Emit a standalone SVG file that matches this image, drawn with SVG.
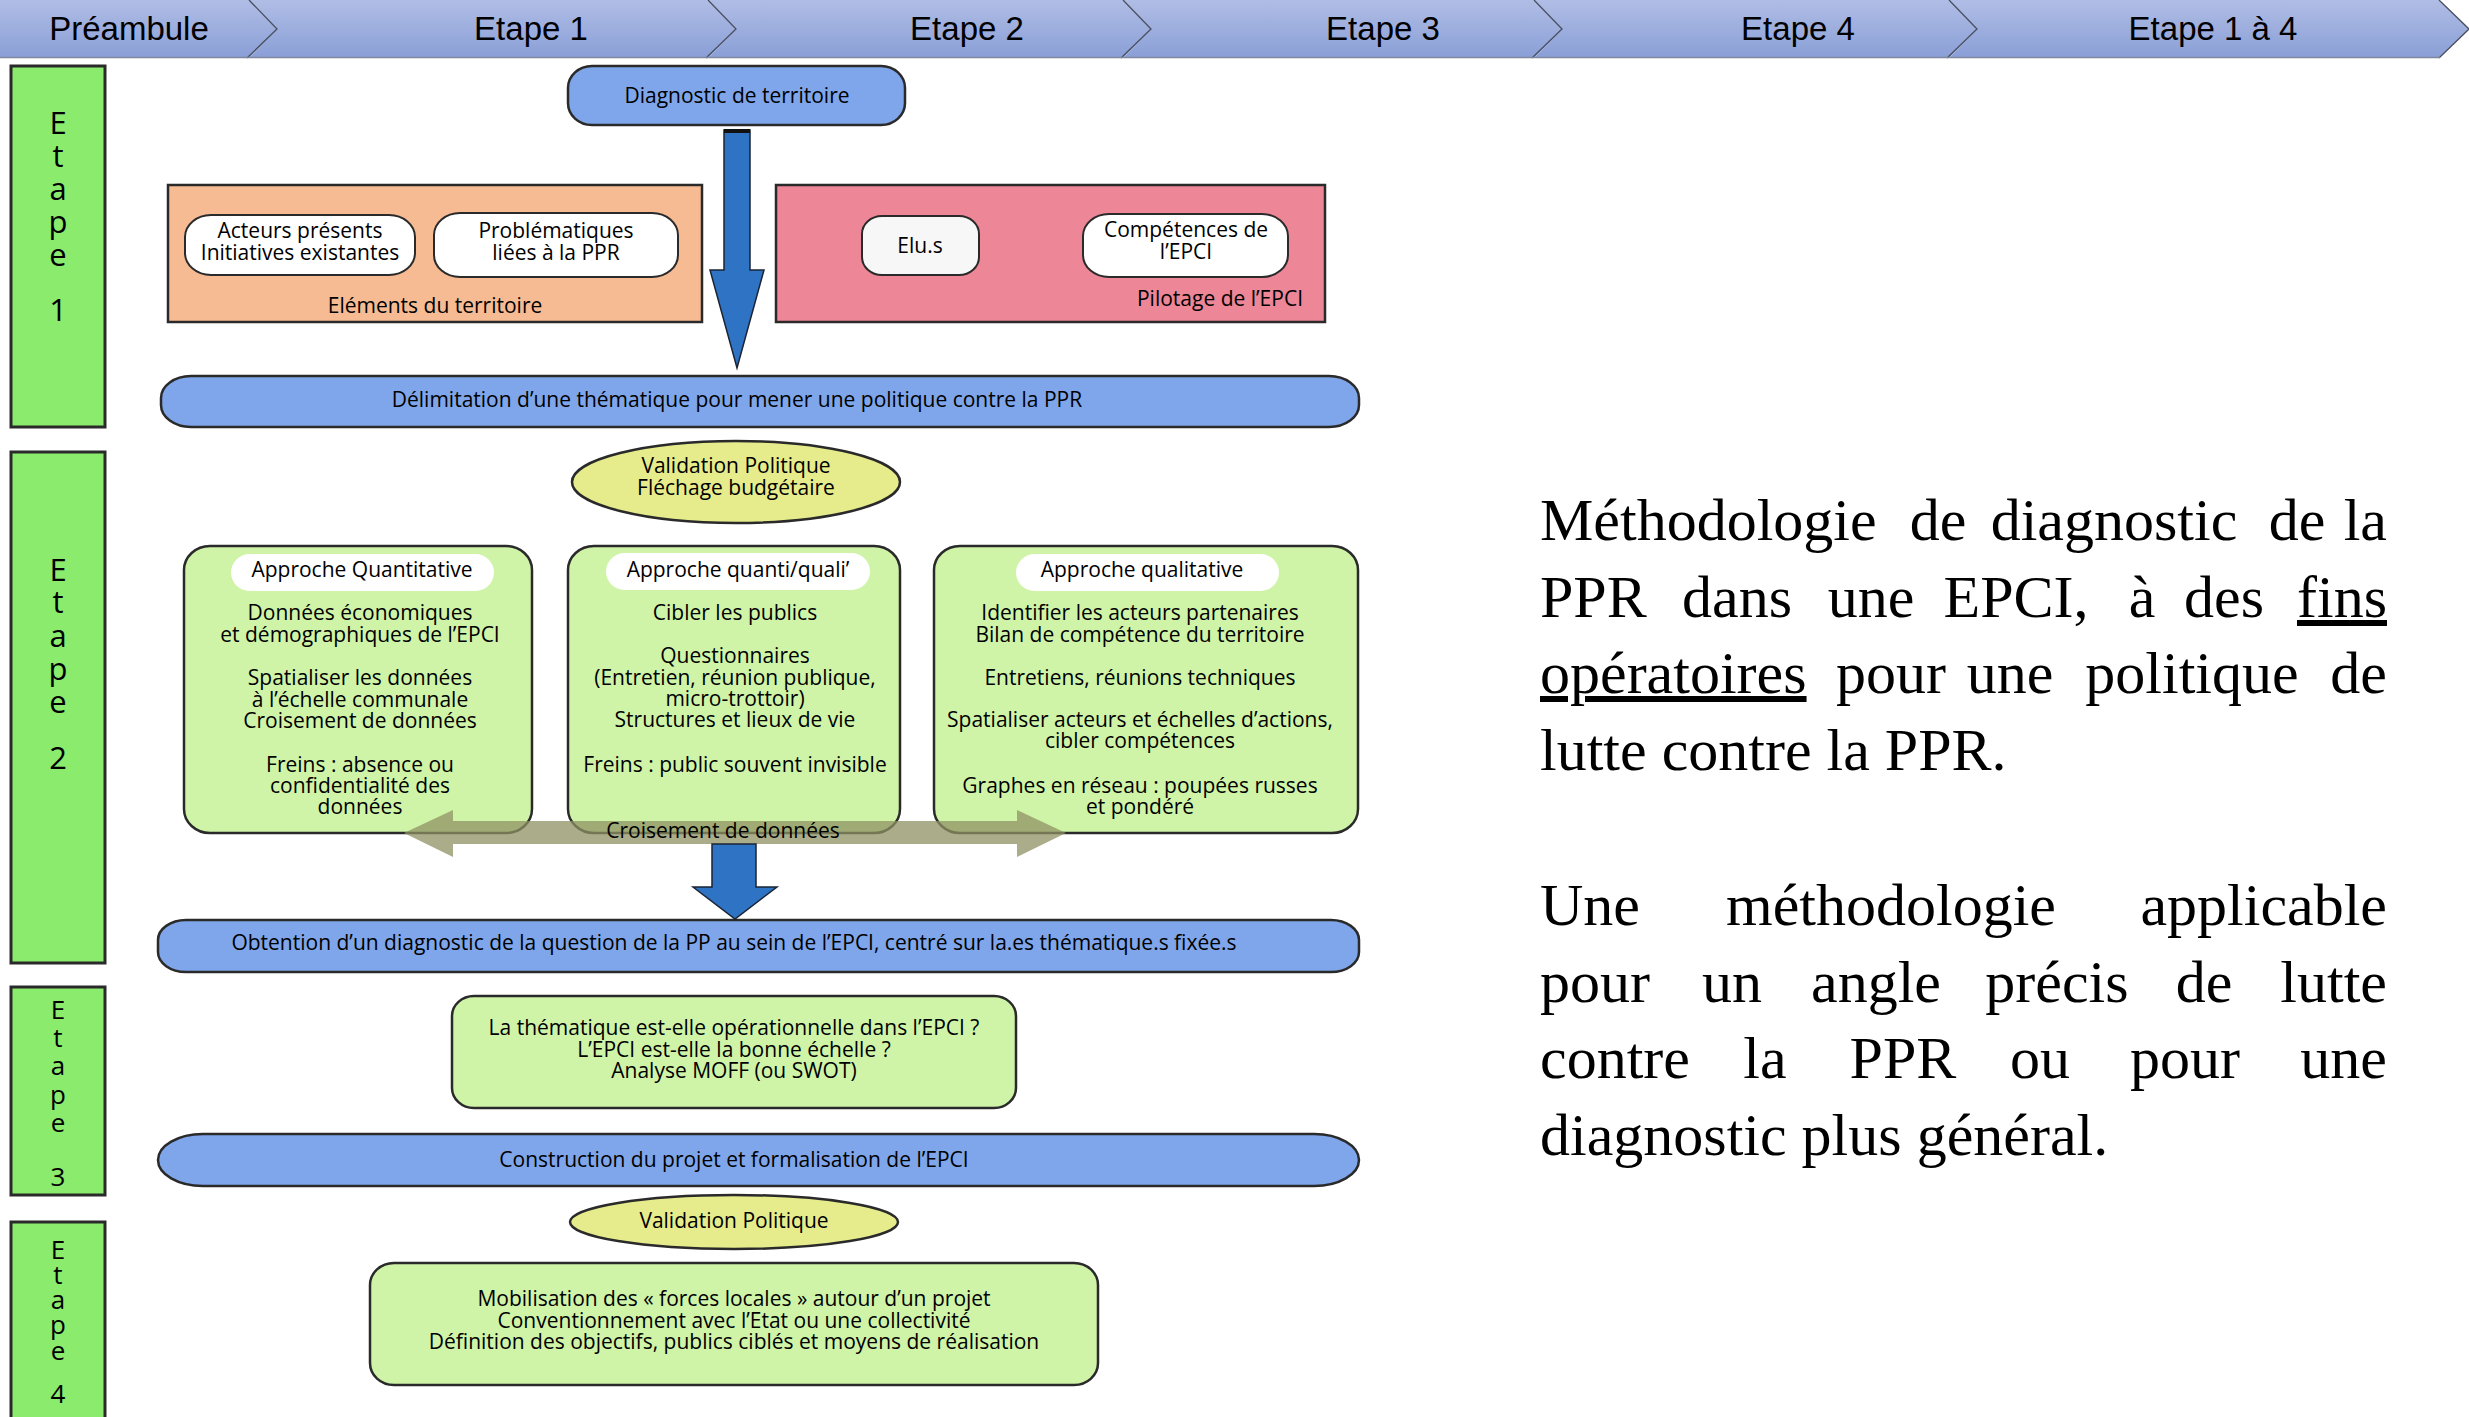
<svg xmlns="http://www.w3.org/2000/svg" width="2469" height="1417" viewBox="0 0 2469 1417">
<defs>
<linearGradient id="hg" x1="0" y1="0" x2="0" y2="1">
<stop offset="0" stop-color="#b0bde5"/>
<stop offset="1" stop-color="#8a9fd7"/>
</linearGradient>
<style>
.hdr{font-family:"Liberation Sans",Arial,sans-serif;font-size:33px;fill:#000;text-anchor:middle}
.chev{fill:url(#hg);stroke:none}
.chevl{fill:none;stroke:#4a4f60;stroke-width:1.3}
.stage{fill:#8aeb6c;stroke:#2a2a2a;stroke-width:3}
.vl{font-family:"Open Sans",sans-serif;font-size:31px;fill:#000;text-anchor:middle}
.vl3{font-family:"Open Sans",sans-serif;font-size:26px;fill:#000;text-anchor:middle}
.t{font-family:"Open Sans",sans-serif;font-size:21px;fill:#000;text-anchor:middle}
.blue{fill:#7fa6ea;stroke:#2a2a2a;stroke-width:2.5}
.lg{fill:#cff4a8;stroke:#2a2a2a;stroke-width:2.5}
.wb{fill:#fff;stroke:#2a2a2a;stroke-width:2}
.pill{fill:#fff;stroke:none}
.ell{fill:#e6ec8b;stroke:#2a2a2a;stroke-width:2.5}
.arr{fill:#2f73c5;stroke:#1a2433;stroke-width:1.5}
.sf{font-family:"Liberation Serif","Times New Roman",serif;font-size:60px;fill:#000}
.s{text-anchor:start}.m{text-anchor:middle}.e{text-anchor:end}
.u{text-decoration:underline}
</style>
</defs>
<rect width="2469" height="1417" fill="#fff"/>

<!-- Header -->
<g id="header">
<polygon class="chev" points="0,0 249,0 277,29 249,58 0,58"/>
<polygon class="chev" points="249,0 708,0 736,29 708,58 249,58 277,29"/>
<polygon class="chev" points="708,0 1123,0 1151,29 1123,58 708,58 736,29"/>
<polygon class="chev" points="1123,0 1534,0 1562,29 1534,58 1123,58 1151,29"/>
<polygon class="chev" points="1534,0 1949,0 1977,29 1949,58 1534,58 1562,29"/>
<polygon class="chev" points="1949,0 2439,0 2469,29 2439,58 1949,58 1977,29"/>
<polyline class="chevl" points="249,0 277,29 247,58"/>
<polyline class="chevl" points="708,0 736,29 706,58"/>
<polyline class="chevl" points="1123,0 1151,29 1121,58"/>
<polyline class="chevl" points="1534,0 1562,29 1532,58"/>
<polyline class="chevl" points="1949,0 1977,29 1947,58"/>
<polyline class="chevl" points="2439,0 2469,29 2439,58"/>
<line x1="0" y1="57.5" x2="2440" y2="57.5" stroke="#7f87a0" stroke-width="1.5"/>
<text class="hdr" x="129" y="40">Préambule</text>
<text class="hdr" x="531" y="40">Etape 1</text>
<text class="hdr" x="967" y="40">Etape 2</text>
<text class="hdr" x="1383" y="40">Etape 3</text>
<text class="hdr" x="1798" y="40">Etape 4</text>
<text class="hdr" x="2213" y="40">Etape 1 à 4</text>
</g>

<!-- Stage bars -->
<g id="etape1-bar">
<rect class="stage" x="11" y="66" width="94" height="361"/>
<text class="vl" x="58" y="134">E</text><text class="vl" x="58" y="167">t</text><text class="vl" x="58" y="200">a</text><text class="vl" x="58" y="233">p</text><text class="vl" x="58" y="266">e</text><text class="vl" x="58" y="321">1</text>
</g>
<g id="etape2-bar">
<rect class="stage" x="11" y="452" width="94" height="511"/>
<text class="vl" x="58" y="581">E</text><text class="vl" x="58" y="613">t</text><text class="vl" x="58" y="647">a</text><text class="vl" x="58" y="680">p</text><text class="vl" x="58" y="713">e</text><text class="vl" x="58" y="769">2</text>
</g>
<g id="etape3-bar">
<rect class="stage" x="11" y="987" width="94" height="208"/>
<text class="vl3" x="58" y="1019">E</text><text class="vl3" x="58" y="1047">t</text><text class="vl3" x="58" y="1075">a</text><text class="vl3" x="58" y="1104">p</text><text class="vl3" x="58" y="1132">e</text><text class="vl3" x="58" y="1186">3</text>
</g>
<g id="etape4-bar">
<rect class="stage" x="11" y="1222" width="94" height="210"/>
<text class="vl3" x="58" y="1259">E</text><text class="vl3" x="58" y="1284">t</text><text class="vl3" x="58" y="1309">a</text><text class="vl3" x="58" y="1334">p</text><text class="vl3" x="58" y="1360">e</text><text class="vl3" x="58" y="1403">4</text>
</g>

<!-- Etape 1 nodes -->
<g id="diagnostic">
<rect class="blue" x="568" y="66" width="337" height="59" rx="24" ry="22"/>
<text class="t" x="737" y="103">Diagnostic de territoire</text>
</g>
<g id="elements-territoire">
<rect x="168" y="185" width="534" height="137" fill="#f7bb93" stroke="#2a2a2a" stroke-width="2.5"/>
<text class="t" x="435" y="313">Eléments du territoire</text>
</g>
<g id="acteurs">
<rect class="wb" x="185" y="215" width="230" height="60" rx="26" ry="22"/>
<text class="t" x="300" y="238">Acteurs présents</text>
<text class="t" x="300" y="260">Initiatives existantes</text>
</g>
<g id="problematiques">
<rect class="wb" x="434" y="213" width="244" height="64" rx="26" ry="22"/>
<text class="t" x="556" y="238">Problématiques</text>
<text class="t" x="556" y="260">liées à la PPR</text>
</g>
<g id="pilotage">
<rect x="776" y="185" width="549" height="137" fill="#ed8696" stroke="#2a2a2a" stroke-width="2.5"/>
<text class="t" x="1220" y="306">Pilotage de l’EPCI</text>
</g>
<g id="elus">
<rect x="862" y="216" width="117" height="59" rx="20" ry="18" fill="#f7f7f7" stroke="#2a2a2a" stroke-width="2"/>
<text class="t" x="920" y="253">Elu.s</text>
</g>
<g id="competences">
<rect class="wb" x="1083" y="214" width="205" height="63" rx="26" ry="22"/>
<text class="t" x="1186" y="237">Compétences de</text>
<text class="t" x="1186" y="259">l’EPCI</text>
</g>
<g id="delimitation">
<rect class="blue" x="161" y="376" width="1198" height="51" rx="30" ry="22"/>
<text class="t" x="737" y="407">Délimitation d’une thématique pour mener une politique contre la PPR</text>
</g>

<!-- Etape 2 nodes -->
<g id="validation1">
<ellipse class="ell" cx="736" cy="482" rx="164" ry="41"/>
<text class="t" x="736" y="473">Validation Politique</text>
<text class="t" x="736" y="495">Fléchage budgétaire</text>
</g>
<g id="quantitative">
<rect class="lg" x="184" y="546" width="348" height="287" rx="26" ry="24"/>
<rect class="pill" x="231" y="554" width="263" height="37" rx="18.5"/>
<text class="t" x="362" y="577">Approche Quantitative</text>
<text class="t" x="360" y="620">Données économiques</text>
<text class="t" x="360" y="642">et démographiques de l’EPCI</text>
<text class="t" x="360" y="685">Spatialiser les données</text>
<text class="t" x="360" y="707">à l’échelle communale</text>
<text class="t" x="360" y="728">Croisement de données</text>
<text class="t" x="360" y="772">Freins : absence ou</text>
<text class="t" x="360" y="793">confidentialité des</text>
<text class="t" x="360" y="814">données</text>
</g>
<g id="quanti-quali">
<rect class="lg" x="568" y="546" width="332" height="287" rx="26" ry="24"/>
<rect class="pill" x="606" y="553" width="264" height="37" rx="18.5"/>
<text class="t" x="738" y="577">Approche quanti/quali’</text>
<text class="t" x="735" y="620">Cibler les publics</text>
<text class="t" x="735" y="663">Questionnaires</text>
<text class="t" x="735" y="685">(Entretien, réunion publique,</text>
<text class="t" x="735" y="706">micro-trottoir)</text>
<text class="t" x="735" y="727">Structures et lieux de vie</text>
<text class="t" x="735" y="772">Freins : public souvent invisible</text>
</g>
<g id="qualitative">
<rect class="lg" x="934" y="546" width="424" height="287" rx="26" ry="24"/>
<rect class="pill" x="1016" y="554" width="263" height="37" rx="18.5"/>
<text class="t" x="1142" y="577">Approche qualitative</text>
<text class="t" x="1140" y="620">Identifier les acteurs partenaires</text>
<text class="t" x="1140" y="642">Bilan de compétence du territoire</text>
<text class="t" x="1140" y="685">Entretiens, réunions techniques</text>
<text class="t" x="1140" y="727">Spatialiser acteurs et échelles d’actions,</text>
<text class="t" x="1140" y="748">cibler compétences</text>
<text class="t" x="1140" y="793">Graphes en réseau : poupées russes</text>
<text class="t" x="1140" y="814">et pondéré</text>
</g>
<g id="obtention">
<rect class="blue" x="158" y="920" width="1201" height="52" rx="28" ry="20"/>
<text class="t" x="734" y="950">Obtention d’un diagnostic de la question de la PP au sein de l’EPCI, centré sur la.es thématique.s fixée.s</text>
</g>

<!-- Etape 3 nodes -->
<g id="thematique">
<rect class="lg" x="452" y="996" width="564" height="112" rx="22" ry="20"/>
<text class="t" x="734" y="1035">La thématique est-elle opérationnelle dans l’EPCI ?</text>
<text class="t" x="734" y="1057">L’EPCI est-elle la bonne échelle ?</text>
<text class="t" x="734" y="1078">Analyse MOFF (ou SWOT)</text>
</g>
<g id="construction">
<rect class="blue" x="158" y="1134" width="1201" height="52" rx="45" ry="26"/>
<text class="t" x="734" y="1167">Construction du projet et formalisation de l’EPCI</text>
</g>

<!-- Etape 4 nodes -->
<g id="validation2">
<ellipse class="ell" cx="734" cy="1222" rx="164" ry="27"/>
<text class="t" x="734" y="1228">Validation Politique</text>
</g>
<g id="mobilisation">
<rect class="lg" x="370" y="1263" width="728" height="122" rx="24" ry="22"/>
<text class="t" x="734" y="1306">Mobilisation des « forces locales » autour d’un projet</text>
<text class="t" x="734" y="1328">Conventionnement avec l’Etat ou une collectivité</text>
<text class="t" x="734" y="1349">Définition des objectifs, publics ciblés et moyens de réalisation</text>
</g>

<!-- Connectors -->
<g id="connectors">
<polygon class="arr" points="724,130 750,130 750,270 764,270 737,368 710,270 724,270"/>
<line x1="724" y1="131" x2="750" y2="131" stroke="#111" stroke-width="4"/>
<polygon points="404,833 453,810 453,821 1017,821 1017,810 1066,833 1017,857 1017,844 453,844 453,857" fill="#8f9163" fill-opacity="0.75"/>
<text class="t" x="723" y="838">Croisement de données</text>
<polygon class="arr" points="712,844 756,844 756,887 777,887 735,919 693,887 712,887"/>
</g>

<!-- Right text -->
<g id="description">
<text class="sf s" x="1540" y="540">Méthodologie</text>
<text class="sf m" x="1938" y="540">de</text>
<text class="sf m" x="2114" y="540">diagnostic</text>
<text class="sf m" x="2297" y="540">de</text>
<text class="sf e" x="2387" y="540">la</text>

<text class="sf s" x="1540" y="617">PPR</text>
<text class="sf m" x="1737" y="617">dans</text>
<text class="sf m" x="1871" y="617">une</text>
<text class="sf m" x="2016" y="617">EPCI,</text>
<text class="sf m" x="2142" y="617">à</text>
<text class="sf m" x="2224" y="617">des</text>
<text class="sf e u" x="2387" y="617">fins</text>

<text class="sf s u" x="1540" y="693">opératoires</text>
<text class="sf m" x="1891" y="693">pour</text>
<text class="sf m" x="2010" y="693">une</text>
<text class="sf m" x="2192" y="693">politique</text>
<text class="sf e" x="2387" y="693">de</text>

<text class="sf s" x="1540" y="770">lutte contre la PPR.</text>

<text class="sf s" x="1540" y="925">Une</text>
<text class="sf m" x="1891" y="925">méthodologie</text>
<text class="sf e" x="2387" y="925">applicable</text>

<text class="sf s" x="1540" y="1002">pour</text>
<text class="sf m" x="1732" y="1002">un</text>
<text class="sf m" x="1876" y="1002">angle</text>
<text class="sf m" x="2057" y="1002">précis</text>
<text class="sf m" x="2204" y="1002">de</text>
<text class="sf e" x="2387" y="1002">lutte</text>

<text class="sf s" x="1540" y="1078">contre</text>
<text class="sf m" x="1765" y="1078">la</text>
<text class="sf m" x="1903" y="1078">PPR</text>
<text class="sf m" x="2040" y="1078">ou</text>
<text class="sf m" x="2185" y="1078">pour</text>
<text class="sf e" x="2387" y="1078">une</text>

<text class="sf s" x="1540" y="1155">diagnostic plus général.</text>
</g>
</svg>
